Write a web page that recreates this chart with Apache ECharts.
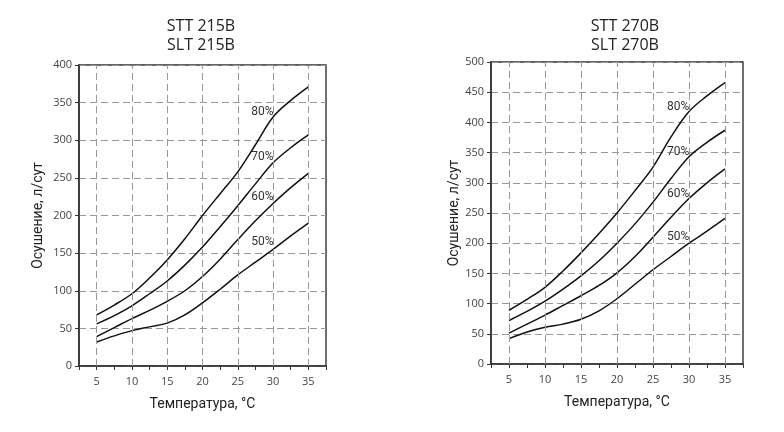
<!DOCTYPE html>
<html>
<head>
<meta charset="utf-8">
<script src="https://cdn.jsdelivr.net/npm/echarts@6/dist/echarts.min.js"></script>
<style>
  html, body { margin: 0; padding: 0; background: #fff; }
  #main { width: 784px; height: 432px; }
</style>
</head>
<body>
<div id="main"></div>
<script>
// температура, °C
var temps = [5, 7.5, 10, 12.5, 15, 17.5, 20, 22.5, 25, 27.5, 30, 32.5, 35];
var gridX = [5, 10, 15, 20, 25, 30, 35];
var humidity = ['80%', '70%', '60%', '50%'];

// STT 215B / SLT 215B, л/сут
var a80 = [68, 81, 96, 117, 141, 169, 200, 229, 258, 294, 331, 353, 371];
var a70 = [56, 67, 80, 96, 113, 134, 158, 185, 213, 242, 270, 290, 307];
var a60 = [39, 51, 63, 74, 86, 100, 119, 142, 168, 193, 216, 237, 256];
var a50 = [32, 40, 47, 52, 57, 68, 84, 102, 121, 138, 155, 173, 190];

// STT 270B / SLT 270B, л/сут
var b80 = [89, 107, 127, 154, 184, 216, 250, 287, 326, 376, 418, 444, 466];
var b70 = [72, 87, 104, 124, 146, 171, 200, 232, 268, 307, 343, 367, 387];
var b60 = [51, 66, 81, 97, 113, 130, 151, 178, 210, 243, 274, 300, 323];
var b50 = [42, 53, 61, 66, 74, 88, 108, 132, 156, 178, 200, 220, 241];

// где стоят подписи 80% ... 50%
var labelX = 28.5;
var labelYA = [338, 278, 224, 165];
var labelYB = [425, 351, 281, 210];

var chart = echarts.init(document.getElementById('main'));

var tickFont = "'Open Sans', 'Noto Sans', sans-serif";
var nameFont = "'Liberation Sans Narrow', 'Roboto', sans-serif";

function pairs(ys) {
  return temps.map(function (t, i) { return [t, ys[i]]; });
}

function xAxis(idx) {
  return {
    type: 'value', gridIndex: idx, min: 2.5, max: 37.5, interval: 2.5,
    name: 'Температура, °C', nameLocation: 'middle', nameGap: 31,
    nameTextStyle: { fontFamily: nameFont, fontSize: 14, color: '#222' },
    axisLine: { lineStyle: { color: '#333', width: 1.6 } },
    axisTick: { length: 4, lineStyle: { color: '#333' } },
    axisLabel: {
      margin: 10, fontFamily: tickFont, fontSize: 11, color: '#444',
      formatter: function (v) { return v % 5 === 0 ? v : ''; }
    },
    splitLine: { show: false }
  };
}

function yAxis(idx, max, gap) {
  return {
    type: 'value', gridIndex: idx, min: 0, max: max, interval: 50,
    name: 'Осушение, л/сут', nameLocation: 'middle', nameGap: gap, nameRotate: 90,
    nameTextStyle: { fontFamily: nameFont, fontSize: 14, color: '#222' },
    axisLine: { show: true, lineStyle: { color: '#333', width: 1.6 } },
    axisTick: { show: true, length: 4, lineStyle: { color: '#333' } },
    axisLabel: { margin: 7, fontFamily: tickFont, fontSize: 11, color: '#444' },
    splitLine: { show: true, lineStyle: { color: '#999', type: [7, 4], width: 1 } }
  };
}

function curve(idx, ys, label, ly) {
  return {
    type: 'line', xAxisIndex: idx, yAxisIndex: idx,
    data: pairs(ys), smooth: 0.35, symbol: 'none', z: 3,
    lineStyle: { color: '#111', width: 1.5 },
    markPoint: {
      symbol: 'rect', symbolSize: 2, silent: true,
      itemStyle: { color: 'rgba(0,0,0,0)' },
      label: {
        show: true, position: 'inside', formatter: label, color: '#333',
        fontFamily: nameFont, fontSize: 12
      },
      data: [{ coord: [labelX, ly] }]
    }
  };
}

function vgrid(idx) {
  return {
    type: 'line', xAxisIndex: idx, yAxisIndex: idx, z: 1,
    data: [], symbol: 'none', silent: true,
    markLine: {
      symbol: 'none', silent: true, label: { show: false },
      lineStyle: { color: '#999', type: [7, 4], width: 1 },
      data: gridX.map(function (x) { return { xAxis: x }; })
    }
  };
}

var setA = [a80, a70, a60, a50];
var setB = [b80, b70, b60, b50];
var series = [vgrid(0), vgrid(1)];
humidity.forEach(function (h, i) {
  series.push(curve(0, setA[i], h, labelYA[i]));
  series.push(curve(1, setB[i], h, labelYB[i]));
});

var option = {
  animation: false,
  backgroundColor: '#fff',
  title: [
    {
      text: 'STT 215B\nSLT 215B', left: 196, top: 12, textAlign: 'center',
      textStyle: { fontFamily: tickFont, fontSize: 16, fontWeight: 'normal', color: '#222', lineHeight: 19 }
    },
    {
      text: 'STT 270B\nSLT 270B', left: 620, top: 12, textAlign: 'center',
      textStyle: { fontFamily: tickFont, fontSize: 16, fontWeight: 'normal', color: '#222', lineHeight: 19 }
    }
  ],
  grid: [
    { left: 79, top: 65, width: 247, height: 301, show: true, borderColor: '#333', borderWidth: 1.4 },
    { left: 491, top: 62, width: 252, height: 302, show: true, borderColor: '#333', borderWidth: 1.4 }
  ],
  xAxis: [xAxis(0), xAxis(1)],
  yAxis: [yAxis(0, 400, 34), yAxis(1, 500, 30)],
  series: series
};

chart.setOption(option);
</script>
</body>
</html>
